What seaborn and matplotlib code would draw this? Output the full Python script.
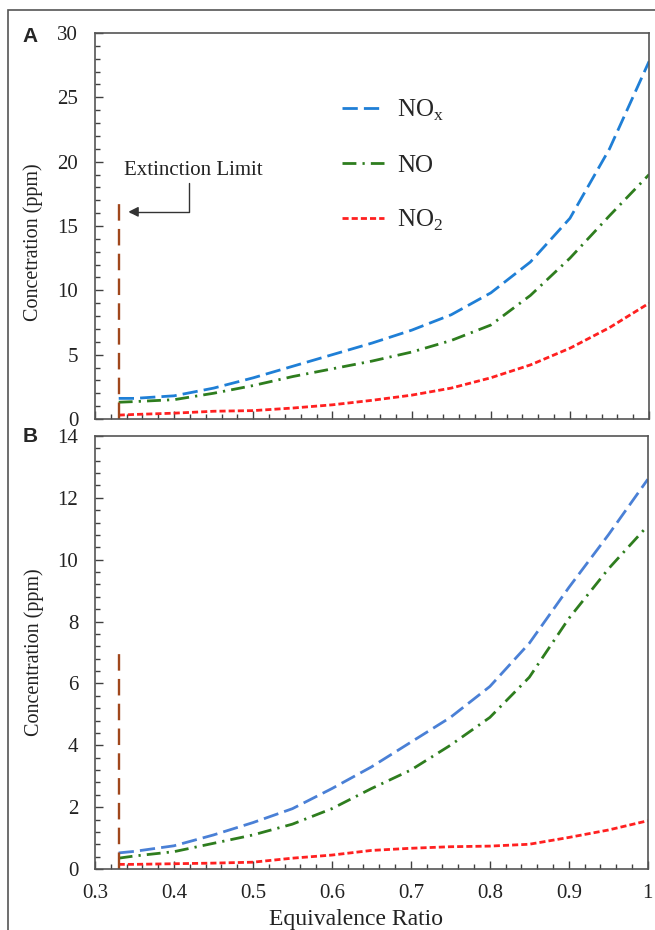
import numpy as np
import pandas as pd
import seaborn as sns
import matplotlib.pyplot as plt
from matplotlib.ticker import MultipleLocator
from matplotlib.patches import Rectangle

# equivalence ratio grid
phi = [0.33, 0.35, 0.40, 0.45, 0.50, 0.55, 0.60, 0.65, 0.70, 0.75, 0.80, 0.85, 0.90, 0.95, 1.00]

# panel A
nox_a = [1.6, 1.6, 1.8, 2.4, 3.2, 4.1, 5.0, 5.9, 6.9, 8.1, 9.8, 12.2, 15.6, 21.0, 27.8]
no_a = [1.3, 1.35, 1.5, 2.0, 2.6, 3.3, 3.9, 4.5, 5.2, 6.1, 7.3, 9.6, 12.5, 15.8, 19.0]
no2_a = [0.3, 0.35, 0.45, 0.6, 0.65, 0.85, 1.1, 1.45, 1.85, 2.4, 3.2, 4.2, 5.5, 7.1, 9.0]
ext_a = 17.3

# panel B
nox_b = [0.52, 0.57, 0.75, 1.1, 1.5, 1.95, 2.6, 3.3, 4.1, 4.9, 5.9, 7.3, 9.1, 10.8, 12.6]
no_b = [0.35, 0.42, 0.56, 0.83, 1.1, 1.45, 1.95, 2.6, 3.2, 4.0, 4.9, 6.2, 8.1, 9.7, 11.1]
no2_b = [0.15, 0.15, 0.17, 0.19, 0.22, 0.35, 0.45, 0.6, 0.67, 0.72, 0.74, 0.8, 1.02, 1.26, 1.56]
ext_b = 7.2

ext_phi = 0.33

species = ["NO$_\\mathrm{x}$", "NO", "NO$_2$"]
colors = ["#1f7fd6", "#2e7d1e", "#ff2020"]
dashes = [(5.5, 2.2), (5, 2.2, 0.8, 2.2), (2.2, 1.1)]

sns.set_style("ticks")
plt.rcParams['font.family'] = ['Liberation Serif', 'DejaVu Serif']
plt.rcParams['mathtext.fontset'] = 'custom'
plt.rcParams['mathtext.rm'] = 'Liberation Serif'

fig = plt.figure(figsize=(6.55, 9.3), dpi=100)
ax_a = fig.add_axes([0.145, 0.5495, 0.846, 0.415])
ax_b = fig.add_axes([0.145, 0.0656, 0.844, 0.4656])

fig.add_artist(Rectangle((8 / 655, -0.1), 1.2, 1 - 10 / 930 + 0.1, transform=fig.transFigure,
                         fill=False, edgecolor="#555555", linewidth=1.2))


def draw_panel(ax, nox, no, no2, ext, ymax, ymajor, yminor, colors_used):
    df = pd.DataFrame({"phi": phi * 3,
                       "conc": nox + no + no2,
                       "species": [species[0]] * len(phi) + [species[1]] * len(phi) + [species[2]] * len(phi)})
    sns.lineplot(data=df, x="phi", y="conc", hue="species", style="species",
                 palette=colors_used, dashes=dashes, linewidth=2.0, ax=ax, legend=True)
    ax.plot([ext_phi, ext_phi], [0, ext], color="#a0471c", linewidth=1.7,
            dashes=(7, 3.5))
    ax.set_xlim(0.3, 1.0)
    ax.set_ylim(0, ymax)
    ax.xaxis.set_major_locator(MultipleLocator(0.1))
    ax.xaxis.set_minor_locator(MultipleLocator(0.02))
    ax.yaxis.set_major_locator(MultipleLocator(ymajor))
    ax.yaxis.set_minor_locator(MultipleLocator(yminor))
    ax.tick_params(which="major", direction="in", length=6, width=1, colors="#404040",
                   labelsize=15, labelcolor="#222222")
    ax.tick_params(axis="y", which="major", pad=12)
    ax.tick_params(axis="x", which="major", pad=11)
    ax.tick_params(which="minor", direction="in", length=3.5, width=1, colors="#404040")
    for sp in ax.spines.values():
        sp.set_color("#555555")
        sp.set_linewidth(1.2)
    ax.set_xlabel("")


draw_panel(ax_a, nox_a, no_a, no2_a, ext_a, 30, 5, 1, [colors[0], colors[1], colors[2]])
draw_panel(ax_b, nox_b, no_b, no2_b, ext_b, 14, 2, 0.4, ["#4a80d6", colors[1], colors[2]])

ax_a.set_ylabel("Concetration (ppm)", fontsize=14.5, color="#222222")
ax_b.set_ylabel("Concentration (ppm)", fontsize=14.5, color="#222222")
ax_a.yaxis.set_label_coords(-0.093, 0.458)
ax_b.yaxis.set_label_coords(-0.093, 0.5)
ax_a.tick_params(axis="x", labelbottom=False)
ax_b.set_xticks([0.3, 0.4, 0.5, 0.6, 0.7, 0.8, 0.9, 1.0])
ax_b.set_xticklabels(["0.3", "0.4", "0.5", "0.6", "0.7", "0.8", "0.9", "1"])
ax_b.set_xlabel("Equivalence Ratio", fontsize=17, color="#222222")
ax_b.xaxis.set_label_coords(0.472, -0.092)

leg = ax_a.legend(loc="upper left", bbox_to_anchor=(0.405, 0.89), frameon=False, fontsize=18,
                  handlelength=1.7, labelspacing=1.25, handletextpad=0.5)
ax_b.get_legend().remove()

ax_a.annotate("Extinction Limit", xy=(0.342, 16.1), xytext=(0.424, 19.3),
              ha="center", va="center", fontsize=15, color="#222222",
              arrowprops=dict(arrowstyle="-|>", color="#333333", lw=1.0,
                              connectionstyle="angle,angleA=-90,angleB=0,rad=0",
                              relpos=(0.47, 0), shrinkA=0, shrinkB=0))

fig.text(30 / 655, 1 - 36 / 930, "A", fontsize=15, fontweight="bold",
         family="Liberation Sans", ha="center", va="center")
fig.text(30 / 655, 1 - 436 / 930, "B", fontsize=15, fontweight="bold",
         family="Liberation Sans", ha="center", va="center")

fig.savefig("out.png", dpi=100)
